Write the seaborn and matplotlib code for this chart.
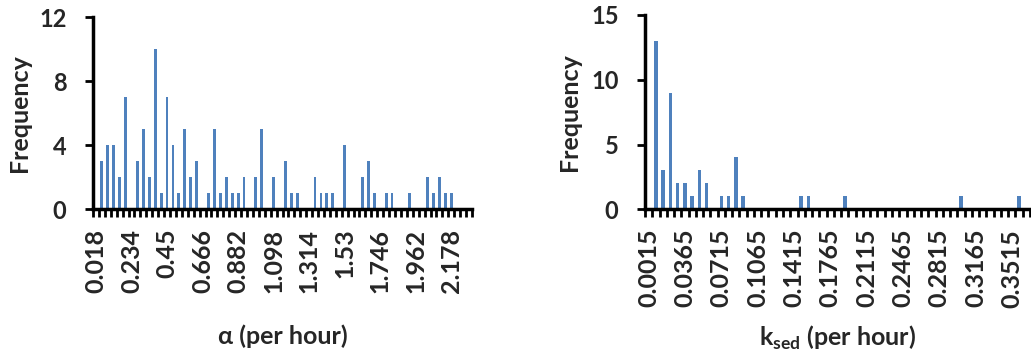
import numpy as np
import pandas as pd
import matplotlib
matplotlib.use('Agg')
import matplotlib.pyplot as plt
import seaborn as sns

# histogram of alpha: first bin upper bound and bin width (per hour)
alpha_start = 0.018
alpha_width = 0.036
alpha_counts = [0, 3, 4, 4, 2, 7, 0, 3, 5, 2, 10, 1, 7, 4, 1, 5, 2, 3, 0, 1,
                5, 1, 2, 1, 1, 2, 0, 2, 5, 0, 2, 0, 3, 1, 1, 0, 0, 2, 1, 1,
                1, 0, 4, 0, 0, 2, 3, 1, 0, 1, 1, 0, 0, 1, 0, 0, 2, 1, 2, 1,
                1, 0, 0, 0]

# histogram of k_sed
ksed_start = 0.0015
ksed_width = 0.007
ksed_counts = [0, 13, 3, 9, 2, 2, 1, 3, 2, 0, 1, 1, 4, 1, 0, 0, 0, 0, 0, 0,
               0, 1, 1, 0, 0, 0, 0, 1, 0, 0, 0, 0, 0, 0, 0, 0, 0, 0, 0, 0,
               0, 0, 0, 1, 0, 0, 0, 0, 0, 0, 0, 1, 0]

alpha_every = 6
ksed_every = 5
bar_color = '#4F81BD'

sns.set_theme(style='white')
plt.rcParams['font.family'] = ['Lato', 'DejaVu Sans']
plt.rcParams['font.weight'] = 'bold'
plt.rcParams['mathtext.fontset'] = 'custom'
plt.rcParams['mathtext.bf'] = 'Lato:bold'
plt.rcParams['mathtext.rm'] = 'Lato:bold'


def make_df(start, width, counts, decimals):
    bins = [f"{round(start + width * i, decimals):g}" for i in range(len(counts))]
    return pd.DataFrame({'bin': bins, 'count': counts})


def draw_hist(ax, df, every, ymax, ystep, xlabel):
    n = len(df)
    sns.barplot(x='bin', y='count', data=df, order=list(df['bin']),
                color=bar_color, width=0.48, saturation=1, linewidth=0, ax=ax)
    ax.set_xlim(-0.5, n - 0.5)
    ax.set_ylim(0, ymax)
    pos = np.arange(0, n, every)
    ax.set_xticks(pos)
    ax.set_xticklabels(df['bin'].iloc[pos], rotation=90, va='top', ha='center')
    ax.set_xticks(np.arange(n + 1) - 0.5, minor=True)
    ax.tick_params(axis='x', which='major', length=0, pad=14, labelsize=18)
    ax.tick_params(axis='x', which='minor', length=6, width=2, color='black',
                   direction='out', bottom=True)
    ax.set_yticks(np.arange(0, ymax + 1, ystep))
    ax.tick_params(axis='y', which='major', length=6, width=2, color='black',
                   direction='out', left=True, labelsize=17, pad=13)
    for lab in ax.get_xticklabels() + ax.get_yticklabels():
        lab.set_fontweight('bold')
    for s in ['top', 'right']:
        ax.spines[s].set_visible(False)
    for s in ['left', 'bottom']:
        ax.spines[s].set_linewidth(2.5)
        ax.spines[s].set_color('black')
    ax.set_ylabel('Frequency', fontsize=18, fontweight='bold', va='center')
    ax.set_xlabel(xlabel, fontsize=18, fontweight='bold', va='center')
    ax.xaxis.set_label_coords(0.5, -0.66)


fig = plt.figure(figsize=(10.31, 3.56), dpi=100)
ax1 = fig.add_axes([93 / 1031, 0.412, 379 / 1031, 0.539])
ax2 = fig.add_axes([645 / 1031, 0.412, 385 / 1031, 0.546])

draw_hist(ax1, make_df(alpha_start, alpha_width, alpha_counts, 3),
          alpha_every, 12, 4, 'α (per hour)')
draw_hist(ax2, make_df(ksed_start, ksed_width, ksed_counts, 4),
          ksed_every, 15, 5, r'k$_{\mathbf{sed}}$ (per hour)')
ax1.yaxis.set_label_coords(-0.193, 0.5)
ax2.yaxis.set_label_coords(-0.195, 0.5)

fig.savefig('out.png', dpi=100)
